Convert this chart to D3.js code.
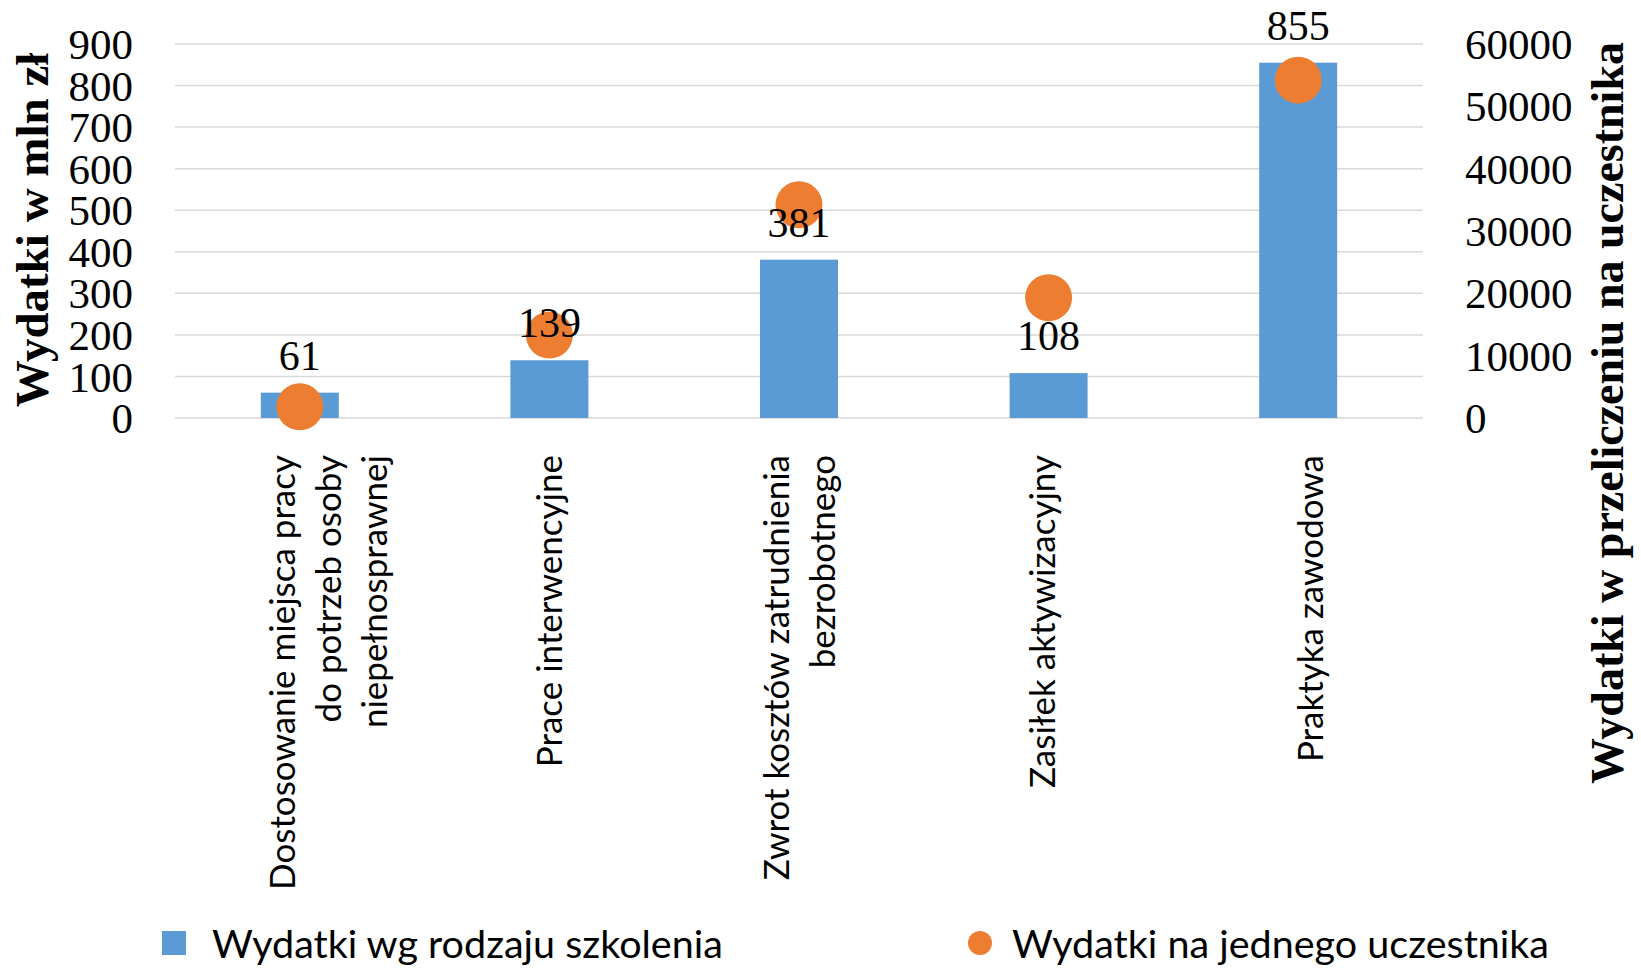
<!DOCTYPE html>
<html>
<head>
<meta charset="utf-8">
<script src="https://cdn.jsdelivr.net/npm/d3@7"></script>
<style>
  body { margin: 0; background: #fff; }
  svg { display: block; }
</style>
</head>
<body>
<div id="chart"></div>
<script>
// data
var categories = [
  "Dostosowanie miejsca pracy|do potrzeb osoby|niepełnosprawnej",
  "Prace interwencyjne",
  "Zwrot kosztów zatrudnienia|bezrobotnego",
  "Zasiłek aktywizacyjny",
  "Praktyka zawodowa"
];
var spending = [61, 139, 381, 108, 855];            // mln zł (bars)
var perParticipant = [1800, 13300, 34200, 19300, 54200]; // zł (dots)
var leftTicks = [0, 100, 200, 300, 400, 500, 600, 700, 800, 900];
var rightTicks = [0, 10000, 20000, 30000, 40000, 50000, 60000];
var seriesNames = ["Wydatki wg rodzaju szkolenia", "Wydatki na jednego uczestnika"];

var W = 1641, H = 970;
var plot = {left: 175, right: 1423, top: 44, bottom: 418};
var blue = "#5b9bd5", orange = "#ed7d31";
var serif = "'Liberation Serif', 'Times New Roman', serif";
var sans = "Lato, 'Gill Sans MT', sans-serif";

var svg = d3.select("#chart").append("svg")
    .attr("width", W).attr("height", H);

var x = d3.scaleBand().domain(d3.range(categories.length))
    .range([plot.left, plot.right])
    .paddingInner(0.6875).paddingOuter(0.34375);
var y = d3.scaleLinear().domain([0, 900]).range([plot.bottom, plot.top]);
var y2 = d3.scaleLinear().domain([0, 60000]).range([plot.bottom, plot.top]);
var cx = function(i){ return x(i) + x.bandwidth() / 2; };

// gridlines
svg.append("g").selectAll("line").data(leftTicks).enter().append("line")
    .attr("x1", plot.left).attr("x2", plot.right)
    .attr("y1", function(d){ return y(d); })
    .attr("y2", function(d){ return y(d); })
    .attr("stroke", "#d9d9d9").attr("stroke-width", 1.5);

// left axis
var leftAxis = svg.append("g")
    .attr("transform", "translate(" + (plot.left - 42) + ",0)")
    .call(d3.axisLeft(y).tickValues(leftTicks).tickSize(0).tickPadding(0));
leftAxis.select(".domain").remove();
leftAxis.selectAll("text")
    .attr("font-family", serif).attr("font-size", 43).attr("fill", "#000")
    .attr("dy", "0.34em");

// right axis
var rightAxis = svg.append("g")
    .attr("transform", "translate(" + (plot.right + 42) + ",0)")
    .call(d3.axisRight(y2).tickValues(rightTicks).tickSize(0).tickPadding(0).tickFormat(d3.format("d")));
rightAxis.select(".domain").remove();
rightAxis.selectAll("text")
    .attr("font-family", serif).attr("font-size", 43).attr("fill", "#000")
    .attr("dy", "0.34em");

// bars
svg.append("g").selectAll("rect").data(spending).enter().append("rect")
    .attr("x", function(d, i){ return x(i); })
    .attr("width", x.bandwidth())
    .attr("y", function(d){ return y(d); })
    .attr("height", function(d){ return y(0) - y(d); })
    .attr("fill", blue);

// dots on the right axis
svg.append("g").selectAll("circle").data(perParticipant).enter().append("circle")
    .attr("cx", function(d, i){ return cx(i); })
    .attr("cy", function(d){ return y2(d); })
    .attr("r", 23.5)
    .attr("fill", orange);

// bar value labels (drawn over the dots, as in the original)
svg.append("g").selectAll("text").data(spending).enter().append("text")
    .attr("x", function(d, i){ return cx(i); })
    .attr("y", function(d){ return y(d) - 23; })
    .attr("text-anchor", "middle")
    .attr("font-family", serif).attr("font-size", 42)
    .text(function(d){ return d; });

// category labels, rotated
var labelNudge = [28, 0, 0, -7, 12];
var lineH = 46, capH = 26;
var cat = svg.append("g").selectAll("text").data(categories).enter().append("text")
    .attr("transform", function(d, i){
        return "translate(" + (cx(i) + labelNudge[i]) + ",455) rotate(-90)";
    })
    .attr("text-anchor", "end")
    .attr("font-family", sans).attr("font-size", 35);
cat.each(function(d){
    var lines = d.split("|");
    var n = lines.length;
    d3.select(this).selectAll("tspan").data(lines).enter().append("tspan")
        .attr("x", 0)
        .attr("y", function(l, j){ return capH / 2 + (j - (n - 1) / 2) * lineH; })
        .text(function(l){ return l; });
});

// axis titles
svg.append("text")
    .attr("transform", "translate(48,230) rotate(-90)")
    .attr("text-anchor", "middle")
    .attr("font-family", serif).attr("font-weight", "bold").attr("font-size", 47)
    .text("Wydatki w mln zł");
svg.append("text")
    .attr("transform", "translate(1623,413) rotate(-90)")
    .attr("text-anchor", "middle")
    .attr("font-family", serif).attr("font-weight", "bold").attr("font-size", 46)
    .text("Wydatki w przeliczeniu na uczestnika");

// legend
var legend = svg.append("g");
legend.append("rect").attr("x", 162).attr("y", 931).attr("width", 24).attr("height", 24).attr("fill", blue);
legend.append("text").attr("x", 212).attr("y", 958)
    .attr("font-family", sans).attr("font-size", 39.5).text(seriesNames[0]);
legend.append("circle").attr("cx", 980).attr("cy", 943).attr("r", 12).attr("fill", orange);
legend.append("text").attr("x", 1012).attr("y", 958)
    .attr("font-family", sans).attr("font-size", 39.5).text(seriesNames[1]);
</script>
</body>
</html>
